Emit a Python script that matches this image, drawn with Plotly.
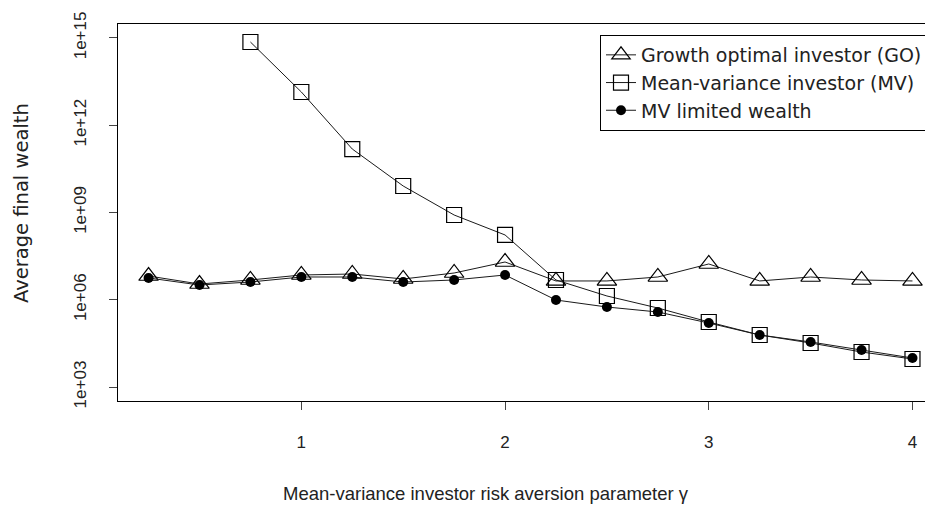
import plotly.graph_objects as go

# data
gamma = [0.25, 0.5, 0.75, 1.0, 1.25, 1.5, 1.75, 2.0, 2.25, 2.5, 2.75, 3.0, 3.25, 3.5, 3.75, 4.0]
go_wealth = [6.56e6, 3.48e6, 4.79e6, 7.11e6, 7.69e6, 5.18e6, 8.32e6, 1.99e7,
             4.43e6, 4.43e6, 6.07e6, 1.70e7, 4.43e6, 6.07e6, 4.79e6, 4.43e6]
mv_gamma = [0.75, 1.0, 1.25, 1.5, 1.75, 2.0, 2.25, 2.5, 2.75, 3.0, 3.25, 3.5, 3.75, 4.0]
mv_wealth = [7.26e14, 1.39e13, 1.52e11, 8.15e9, 8.20e8, 1.69e8, 4.79e6, 1.35e6,
             5.21e5, 1.72e5, 6.15e4, 3.27e4, 1.60e4, 9.2e3]
mvl_wealth = [5.61e6, 3.22e6, 4.08e6, 6.07e6, 6.07e6, 4.08e6, 4.79e6, 7.11e6,
              9.82e5, 5.64e5, 3.80e5, 1.59e5, 6.15e4, 3.54e4, 1.87e4, 9.95e3]

x_ticks = [1, 2, 3, 4]
y_ticks = [1e3, 1e6, 1e9, 1e12, 1e15]
y_ticklabels = ["1e+03", "1e+06", "1e+09", "1e+12", "1e+15"]

series_names = ["Growth optimal investor (GO)", "Mean-variance investor (MV)", "MV limited wealth"]
x_title = "Mean-variance investor risk aversion parameter \u03b3"
y_title = "Average final wealth"

FONT = "Liberation Sans, Arial, sans-serif"
WIDE = "DejaVu Sans, Liberation Sans, sans-serif"
LINE = "#1a1a1a"
TXT = "#222"

fig = go.Figure()
fig.add_trace(go.Scatter(
    x=gamma, y=go_wealth, mode="lines+markers", name=series_names[0],
    line=dict(color=LINE, width=1),
    marker=dict(symbol="triangle-up-open", size=17, color="black", line=dict(width=1.2, color="black")),
))
fig.add_trace(go.Scatter(
    x=mv_gamma, y=mv_wealth, mode="lines+markers", name=series_names[1],
    line=dict(color=LINE, width=1),
    marker=dict(symbol="square-open", size=15, color="black", line=dict(width=1.2, color="black")),
))
fig.add_trace(go.Scatter(
    x=gamma, y=mvl_wealth, mode="lines+markers", name=series_names[2],
    line=dict(color=LINE, width=1),
    marker=dict(symbol="circle", size=10, color="black", line=dict(width=0)),
))

# page body has an 8px margin: plot area on screen is x 118..941, y 24..401
PL, PR, PT, PB = 118, 941, 24, 401
PW, PH = PR - PL, PB - PT

fig.update_layout(
    width=933, height=509,
    margin=dict(l=110, r=0, t=16, b=116),
    paper_bgcolor="white", plot_bgcolor="white",
    font=dict(family=FONT, size=17, color=TXT),
    showlegend=True,
    legend=dict(
        x=(928 - PL) / PW, y=(PB - 35) / PH, xanchor="right", yanchor="top",
        bordercolor="black", borderwidth=1, bgcolor="white",
        font=dict(family=WIDE, size=19, color=TXT),
        tracegroupgap=0, itemsizing="trace",
    ),
    xaxis=dict(
        range=[0.1, 4.14], tickvals=x_ticks, ticktext=[str(v) for v in x_ticks],
        showgrid=False, zeroline=False, showline=True, mirror=True,
        linecolor="black", linewidth=1,
        ticks="outside", ticklen=8, tickcolor="#444", tickwidth=1,
        ticklabelstandoff=18, tickfont=dict(size=17, color=TXT),
    ),
    yaxis=dict(
        type="log", range=[2.52, 15.48], tickvals=y_ticks, ticktext=y_ticklabels,
        showgrid=False, zeroline=False, showline=True, linecolor="black", linewidth=1,
        ticks="outside", ticklen=8, tickcolor="#444", tickwidth=1,
        tickangle=-90, ticklabelstandoff=16, tickfont=dict(size=17, color=TXT),
    ),
    annotations=[
        dict(text=x_title, xref="paper", yref="paper", x=(486 - PL) / PW, y=-(494 - PB) / PH,
             xanchor="center", yanchor="middle", showarrow=False, font=dict(size=18.5, color=TXT)),
        dict(text=y_title, xref="paper", yref="paper", x=-(PL - 21) / PW, y=(PB - 203) / PH,
             xanchor="center", yanchor="middle", showarrow=False, textangle=-90,
             font=dict(family=WIDE, size=19.5, color=TXT)),
    ],
)

fig.write_html("out.html")
